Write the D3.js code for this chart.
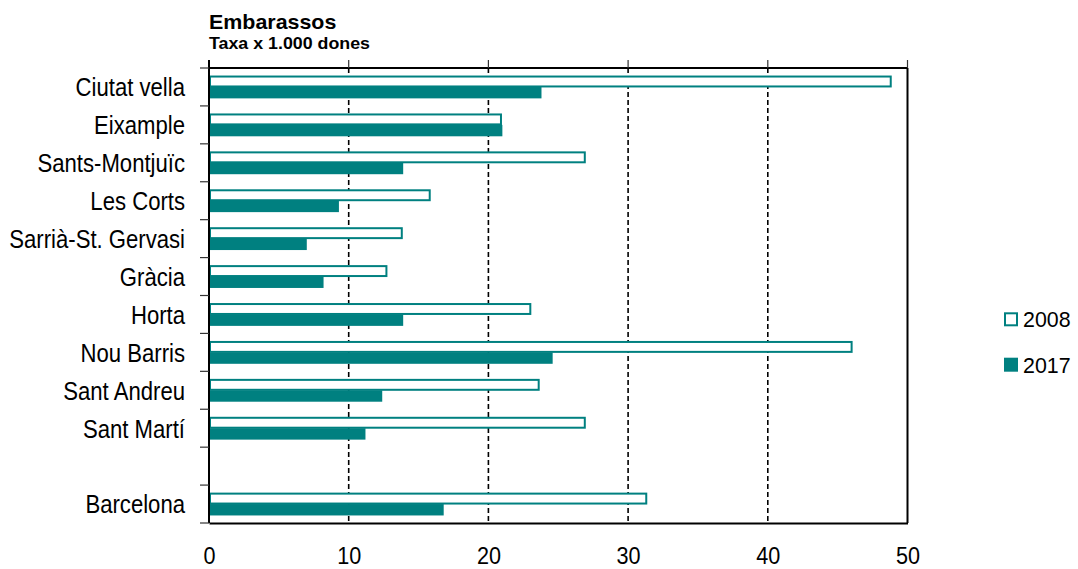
<!DOCTYPE html>
<html>
<head>
<meta charset="utf-8">
<script src="https://cdn.jsdelivr.net/npm/d3@7"></script>
<style>
  html, body { margin: 0; padding: 0; background: #fff; }
  svg { display: block; font-family: "Liberation Sans", Arial, sans-serif; }
</style>
</head>
<body>
<svg id="chart" width="1078" height="569"></svg>
<script>
// Districts of Barcelona (blank slot separates the city total)
const categories = ["Ciutat vella", "Eixample", "Sants-Montjuïc", "Les Corts",
  "Sarrià-St. Gervasi", "Gràcia", "Horta", "Nou Barris", "Sant Andreu",
  "Sant Martí", "", "Barcelona"];
const seriesNames = ["2008", "2017"];
const values2008 = [48.8, 20.9, 26.9, 15.8, 13.8, 12.7, 23.0, 46.0, 23.6, 26.9, null, 31.3];
const values2017 = [23.8, 21.0, 13.9, 9.3, 7.0, 8.2, 13.9, 24.6, 12.4, 11.2, null, 16.8];
const xTicks = [0, 10, 20, 30, 40, 50];
const titleText = "Embarassos";
const subtitleText = "Taxa x 1.000 dones";

const teal = "#008080";
const svg = d3.select("#chart");
const m = { left: 209, right: 907.5, top: 68, bottom: 523 };

const x = d3.scaleLinear().domain([0, 50]).range([m.left, m.right]);
const y = d3.scaleBand().domain(d3.range(categories.length)).range([m.top, m.bottom]).paddingInner(0).paddingOuter(0);
const inner = d3.scaleBand().domain(seriesNames).range([0, y.bandwidth()]).paddingOuter(0.66).paddingInner(0);

// Helper: text with horizontal scaling around its anchor point
function label(parent, tx, ty, size, sx, str, opts = {}) {
  return parent.append("text")
    .attr("transform", `translate(${tx},${ty}) scale(${sx},1)`)
    .attr("font-size", size)
    .attr("font-weight", opts.bold ? "bold" : null)
    .attr("text-anchor", opts.anchor || "start")
    .attr("fill", "#000")
    .text(str);
}

// Title
label(svg, 209, 28.5, 21, 1.02, titleText, { bold: true });
label(svg, 209, 49, 16.5, 1.08, subtitleText, { bold: true });

// Dashed vertical grid lines
svg.append("g").selectAll("line").data(xTicks.filter(t => t > 0 && t < 50)).join("line")
  .attr("x1", d => x(d)).attr("x2", d => x(d))
  .attr("y1", m.top).attr("y2", m.bottom)
  .attr("stroke", "#000").attr("stroke-width", 1.6).attr("stroke-dasharray", "5,3");

// Bars
const rows = categories.map((c, i) => ({ i, v: [values2008[i], values2017[i]] }));
const g = svg.append("g");
rows.forEach(r => {
  if (r.v[0] != null) {
    g.append("rect")
      .attr("x", x(0) + 1).attr("y", y(r.i) + inner("2008") + 1)
      .attr("width", x(r.v[0]) - x(0) - 1).attr("height", inner.bandwidth() - 1.5)
      .attr("fill", "#fff").attr("stroke", teal).attr("stroke-width", 2);
  }
  if (r.v[1] != null) {
    g.append("rect")
      .attr("x", x(0)).attr("y", y(r.i) + inner("2017"))
      .attr("width", x(r.v[1]) - x(0)).attr("height", inner.bandwidth())
      .attr("fill", teal);
  }
});

// Frame: top and right borders
svg.append("line").attr("x1", m.left).attr("x2", m.right).attr("y1", m.top).attr("y2", m.top).attr("stroke", "#000").attr("stroke-width", 2);
svg.append("line").attr("x1", m.right).attr("x2", m.right).attr("y1", m.top).attr("y2", m.bottom).attr("stroke", "#000").attr("stroke-width", 2);

// Small tick marks above the top border
svg.append("g").selectAll("line").data(xTicks).join("line")
  .attr("x1", d => x(d)).attr("x2", d => x(d))
  .attr("y1", m.top - 8).attr("y2", m.top)
  .attr("stroke", "#333").attr("stroke-width", 1.2);

// Bottom axis
const xAxis = svg.append("g").attr("transform", `translate(0,${m.bottom})`)
  .call(d3.axisBottom(x).tickValues(xTicks).tickSize(0).tickFormat(""));
xAxis.select(".domain").attr("stroke", "#000").attr("stroke-width", 2);
xAxis.selectAll(".tick").each(function(d) {
  label(d3.select(this), 0, 41, 23, 0.94, String(d), { anchor: "middle" });
});

// Left axis: category boundary ticks
const bounds = d3.range(categories.length + 1).map(i => m.top + i * y.step());
svg.append("line").attr("x1", m.left).attr("x2", m.left).attr("y1", m.top - 8).attr("y2", m.bottom).attr("stroke", "#000").attr("stroke-width", 2);
svg.append("g").selectAll("line").data(bounds).join("line")
  .attr("x1", m.left - 9).attr("x2", m.left).attr("y1", d => d).attr("y2", d => d)
  .attr("stroke", "#333").attr("stroke-width", 1.2);

// Category labels
const labels = svg.append("g");
categories.forEach((c, i) => {
  if (c) label(labels, 185, y(i) + y.bandwidth() / 2 + 9.3, 25, 0.885, c, { anchor: "end" });
});

// Legend
const legend = svg.append("g");
const legendBase = [327.3, 372.7];
seriesNames.forEach((s, i) => {
  const isOpen = i === 0;
  legend.append("rect")
    .attr("x", isOpen ? 1005 : 1004).attr("y", legendBase[i] - 15 + (isOpen ? 1 : 0))
    .attr("width", isOpen ? 12 : 14).attr("height", isOpen ? 12 : 14)
    .attr("fill", isOpen ? "#fff" : teal).attr("stroke", isOpen ? teal : "none").attr("stroke-width", 2);
  label(legend, 1023, legendBase[i], 23, 0.93, s);
});
</script>
</body>
</html>
